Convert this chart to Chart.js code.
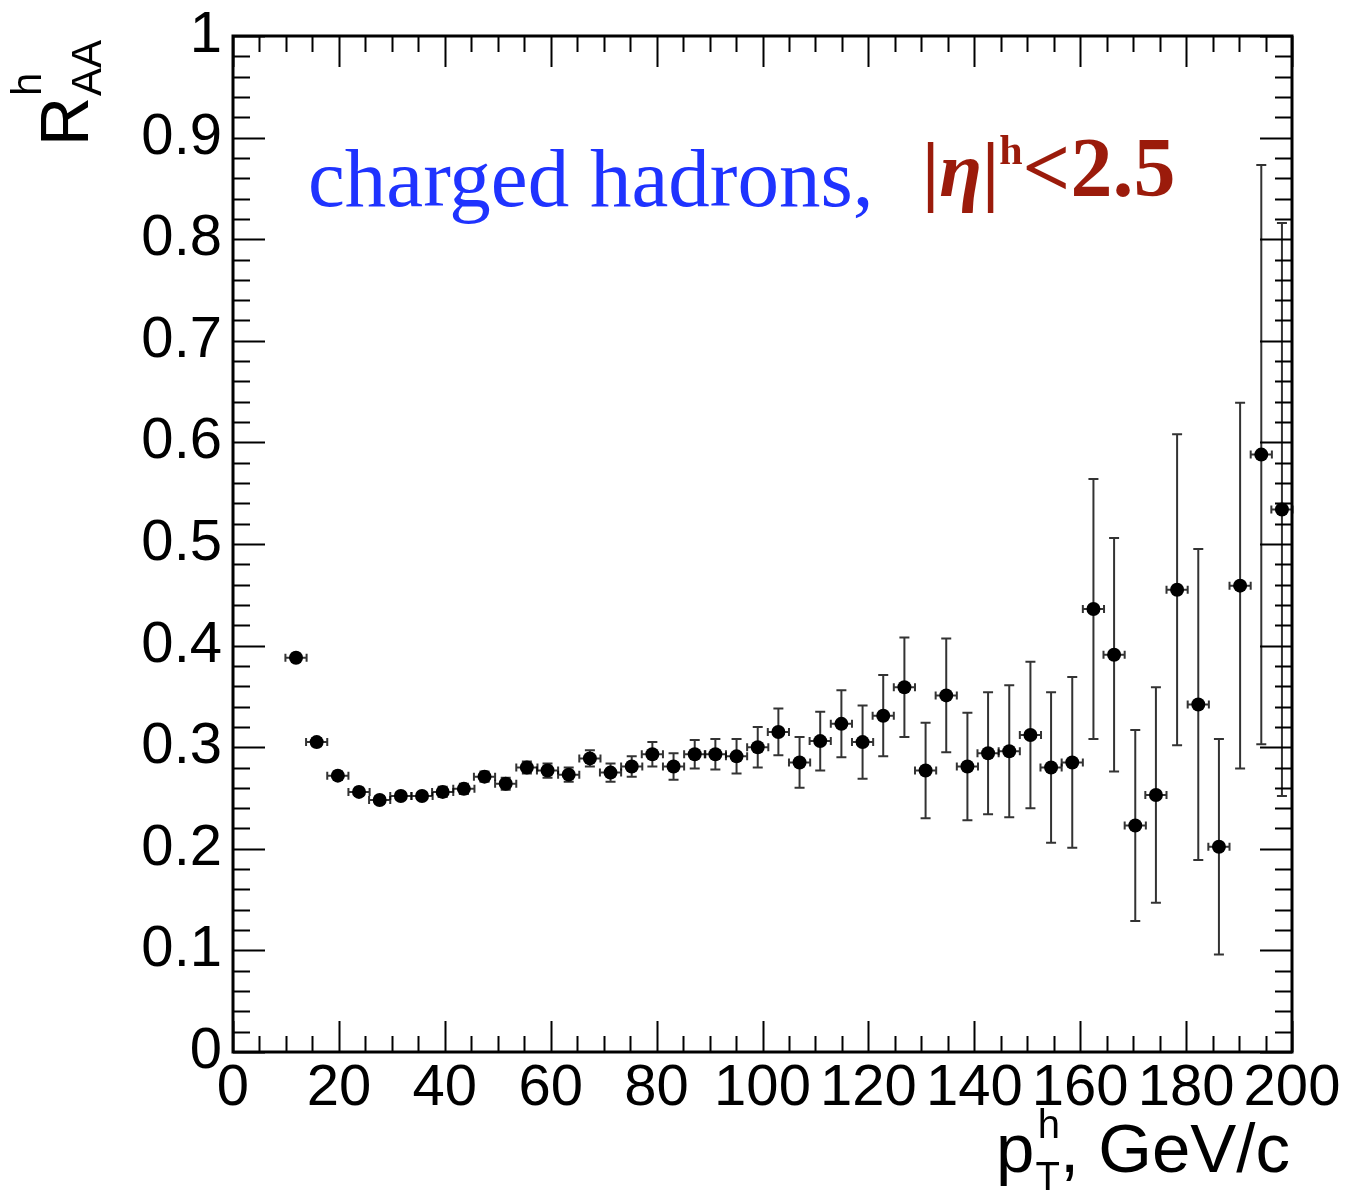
<!DOCTYPE html>
<html>
<head>
<meta charset="utf-8">
<script src="https://cdn.jsdelivr.net/npm/chart.js@4.4.1/dist/chart.umd.min.js"></script>
<style>
  html, body { margin: 0; padding: 0; background: #fff; }
  #wrap { width: 1347px; height: 1193px; position: relative; }
</style>
</head>
<body>
<div id="wrap"><canvas id="raaChart"></canvas></div>
<script>
// transverse momentum bin centres (GeV/c)
var ptValues = [11.9, 15.8, 19.8, 23.8, 27.7, 31.7, 35.7, 39.6, 43.6, 47.5, 51.5, 55.5,
  59.4, 63.4, 67.4, 71.3, 75.3, 79.2, 83.2, 87.2, 91.1, 95.1, 99.1, 103.0,
  107.0, 110.9, 114.9, 118.9, 122.8, 126.8, 130.8, 134.7, 138.7, 142.6, 146.6, 150.6,
  154.5, 158.5, 162.5, 166.4, 170.4, 174.3, 178.3, 182.3, 186.2, 190.2, 194.2, 198.1];
// half bin width
var ptErrors = [2, 2, 2, 2, 2, 2, 2, 2, 2, 2, 2, 2,
  2, 2, 2, 2, 2, 2, 2, 2, 2, 2, 2, 2,
  2, 2, 2, 2, 2, 2, 2, 2, 2, 2, 2, 2,
  2, 2, 2, 2, 2, 2, 2, 2, 2, 2, 2, 2];
// nuclear modification factor
var raaValues = [0.388, 0.305, 0.272, 0.256, 0.248, 0.252, 0.252, 0.256, 0.259, 0.271, 0.264, 0.280,
  0.277, 0.273, 0.289, 0.275, 0.281, 0.293, 0.281, 0.293, 0.293, 0.291, 0.300, 0.315,
  0.285, 0.306, 0.323, 0.305, 0.331, 0.359, 0.277, 0.351, 0.281, 0.294, 0.296, 0.312,
  0.280, 0.285, 0.436, 0.391, 0.223, 0.253, 0.455, 0.342, 0.202, 0.459, 0.588, 0.534];
var raaErrors = [0.004, 0.004, 0.004, 0.004, 0.004, 0.004, 0.004, 0.005, 0.005, 0.005, 0.006, 0.006,
  0.007, 0.007, 0.008, 0.009, 0.010, 0.012, 0.013, 0.014, 0.015, 0.017, 0.020, 0.023,
  0.025, 0.029, 0.033, 0.036, 0.040, 0.049, 0.047, 0.056, 0.053, 0.060, 0.065, 0.072,
  0.074, 0.084, 0.128, 0.115, 0.094, 0.106, 0.153, 0.153, 0.106, 0.180, 0.285, 0.282];
// axis ranges and tick steps
var xRange = [0, 200];
var yRange = [0, 1];
var xMajorStep = 20, xMinorStep = 5;
var yMajorStep = 0.1, yMinorStep = 0.02;

var points = [];
for (var i = 0; i < ptValues.length; i++) {
  points.push({ x: ptValues[i], y: raaValues[i], ex: ptErrors[i], ey: raaErrors[i] });
}

// error bars drawn below the markers
var errorBarPlugin = {
  id: 'errorBars',
  beforeDatasetsDraw: function (chart) {
    var ctx = chart.ctx, xs = chart.scales.x, ys = chart.scales.y;
    ctx.save();
    ctx.strokeStyle = 'rgba(0,0,0,0.8)';
    ctx.lineWidth = 2;
    points.forEach(function (p) {
      var px = xs.getPixelForValue(p.x), py = ys.getPixelForValue(p.y);
      var y1 = ys.getPixelForValue(p.y - p.ey), y2 = ys.getPixelForValue(p.y + p.ey);
      var x1 = xs.getPixelForValue(p.x - p.ex), x2 = xs.getPixelForValue(p.x + p.ex);
      ctx.beginPath();
      ctx.moveTo(px, y1); ctx.lineTo(px, y2);
      ctx.moveTo(px - 5, y1); ctx.lineTo(px + 5, y1);
      ctx.moveTo(px - 5, y2); ctx.lineTo(px + 5, y2);
      ctx.moveTo(x1, py); ctx.lineTo(x2, py);
      ctx.moveTo(x1, py - 4); ctx.lineTo(x1, py + 4);
      ctx.moveTo(x2, py - 4); ctx.lineTo(x2, py + 4);
      ctx.stroke();
    });
    ctx.restore();
  }
};

// ROOT style frame with inside ticks, titles and labels
var framePlugin = {
  id: 'rootFrame',
  afterDraw: function (chart) {
    var ctx = chart.ctx, xs = chart.scales.x, ys = chart.scales.y, a = chart.chartArea;
    ctx.save();
    ctx.strokeStyle = '#000';
    ctx.lineWidth = 2;
    ctx.beginPath();
    var n, v, px, py, len;
    for (n = 0; n * xMinorStep <= xRange[1] + 1e-9; n++) {
      v = n * xMinorStep;
      px = Math.round(xs.getPixelForValue(v)) + 0.5;
      len = (v % xMajorStep === 0) ? 31 : 16;
      ctx.moveTo(px, a.bottom); ctx.lineTo(px, a.bottom - len);
      ctx.moveTo(px, a.top); ctx.lineTo(px, a.top + len);
    }
    for (n = 0; n * yMinorStep <= yRange[1] + 1e-9; n++) {
      v = n * yMinorStep;
      py = Math.round(ys.getPixelForValue(v)) + 0.5;
      len = (n % 5 === 0) ? 32 : 17;
      ctx.moveTo(a.left, py); ctx.lineTo(a.left + len, py);
      ctx.moveTo(a.right, py); ctx.lineTo(a.right - len, py);
    }
    ctx.stroke();
    ctx.lineWidth = 3;
    ctx.strokeRect(a.left, a.top, a.right - a.left, a.bottom - a.top);

    // y title R^h_AA
    ctx.fillStyle = '#000';
    ctx.translate(88, 146);
    ctx.rotate(-Math.PI / 2);
    ctx.textBaseline = 'alphabetic';
    ctx.textAlign = 'left';
    ctx.font = '68px "Liberation Sans", Arial, sans-serif';
    ctx.fillText('R', 0, 0);
    var rw = ctx.measureText('R').width;
    ctx.font = '42px "Liberation Sans", Arial, sans-serif';
    ctx.fillText('h', rw + 1, -47);
    ctx.fillText('AA', rw + 1, 13);
    ctx.setTransform(1, 0, 0, 1, 0, 0);

    // x title p^h_T, GeV/c
    ctx.textAlign = 'right';
    ctx.font = '69px "Liberation Sans", Arial, sans-serif';
    var base = 1172, right = 1290;
    ctx.fillText(', GeV/c', right, base);
    var rest = ctx.measureText(', GeV/c').width;
    ctx.font = '40px "Liberation Sans", Arial, sans-serif';
    var tw = ctx.measureText('T').width;
    ctx.fillText('T', right - rest, base + 18);
    ctx.fillText('h', right - rest, base - 34);
    ctx.font = '69px "Liberation Sans", Arial, sans-serif';
    ctx.fillText('p', right - rest - tw - 1, base);

    // annotations
    ctx.textAlign = 'left';
    ctx.fillStyle = '#1f33ff';
    ctx.font = '83px "Liberation Serif", "Times New Roman", serif';
    ctx.fillText('charged hadrons,', 308, 206);

    ctx.fillStyle = '#9b1b0b';
    var x0 = 922, b = 196;
    ctx.font = 'bold 78px "Liberation Serif", "Times New Roman", serif';
    ctx.fillText('|', x0, b);
    x0 += ctx.measureText('|').width;
    ctx.font = 'italic bold 78px "Liberation Serif", "Times New Roman", serif';
    ctx.fillText('\u03b7', x0, b);
    x0 += ctx.measureText('\u03b7').width;
    ctx.font = 'bold 78px "Liberation Serif", "Times New Roman", serif';
    ctx.fillText('|', x0, b);
    x0 += ctx.measureText('|').width;
    ctx.font = 'bold 42px "Liberation Serif", "Times New Roman", serif';
    ctx.fillText('h', x0, b - 32);
    x0 += ctx.measureText('h').width;
    ctx.font = 'bold 84px "Liberation Serif", "Times New Roman", serif';
    ctx.fillText('<2.5', x0, b);
    ctx.restore();
  }
};

var tickFont = { family: '"Liberation Sans", Arial, sans-serif', size: 58 };

new Chart(document.getElementById('raaChart'), {
  type: 'scatter',
  data: {
    datasets: [{
      label: 'charged hadrons',
      data: points,
      pointRadius: 7,
      pointHoverRadius: 7,
      pointBackgroundColor: '#000',
      pointBorderWidth: 0,
      showLine: false
    }]
  },
  options: {
    responsive: true,
    maintainAspectRatio: false,
    animation: false,
    events: [],
    layout: { padding: { top: 36, right: 55, left: 0, bottom: 0 } },
    plugins: { legend: { display: false }, tooltip: { enabled: false } },
    scales: {
      x: {
        type: 'linear',
        min: xRange[0], max: xRange[1],
        border: { display: false },
        grid: { display: false, drawTicks: false },
        afterFit: function (s) { s.height = 141; s.paddingLeft = 0; s.paddingRight = 0; },
        ticks: {
          stepSize: xMajorStep, color: '#000', font: tickFont, padding: 2,
          maxRotation: 0, autoSkip: false,
          callback: function (v) { return String(v); }
        }
      },
      y: {
        type: 'linear',
        min: yRange[0], max: yRange[1],
        border: { display: false },
        grid: { display: false, drawTicks: false },
        afterFit: function (s) { s.width = 233; s.paddingTop = 0; s.paddingBottom = 0; },
        ticks: {
          stepSize: yMajorStep, color: '#000', font: tickFont, padding: 11,
          callback: function (v) {
            if (Math.abs(v) < 1e-9) return '0';
            if (Math.abs(v - 1) < 1e-9) return '1';
            return v.toFixed(1);
          }
        }
      }
    }
  },
  plugins: [errorBarPlugin, framePlugin]
});
</script>
</body>
</html>
